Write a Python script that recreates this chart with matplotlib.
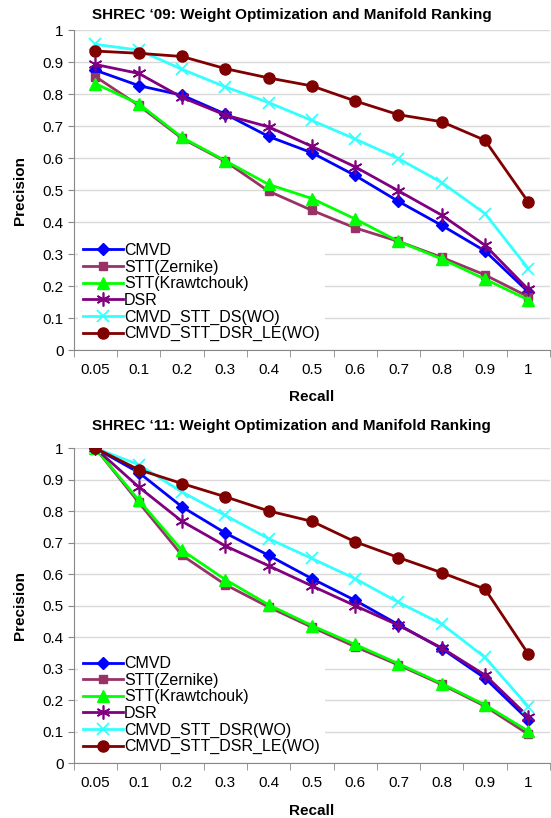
import matplotlib.pyplot as plt
import numpy as np

plt.rcParams['font.family'] = ['Liberation Sans', 'DejaVu Sans']

recall = ["0.05", "0.1", "0.2", "0.3", "0.4", "0.5", "0.6", "0.7", "0.8", "0.9", "1"]

# SHREC '09
cmvd_09 = [0.875, 0.827, 0.797, 0.738, 0.668, 0.617, 0.546, 0.465, 0.390, 0.310, 0.182]
zern_09 = [0.855, 0.765, 0.662, 0.590, 0.497, 0.437, 0.382, 0.340, 0.290, 0.235, 0.167]
kraw_09 = [0.833, 0.770, 0.665, 0.592, 0.518, 0.474, 0.410, 0.340, 0.285, 0.222, 0.157]
dsr_09 = [0.893, 0.865, 0.790, 0.735, 0.698, 0.637, 0.573, 0.498, 0.422, 0.328, 0.190]
wo_09 = [0.956, 0.938, 0.878, 0.823, 0.774, 0.718, 0.660, 0.599, 0.524, 0.427, 0.255]
le_09 = [0.935, 0.928, 0.918, 0.880, 0.851, 0.826, 0.779, 0.736, 0.714, 0.656, 0.463]

# SHREC '11
cmvd_11 = [1.0, 0.923, 0.814, 0.731, 0.660, 0.586, 0.517, 0.440, 0.364, 0.270, 0.138]
zern_11 = [1.0, 0.828, 0.660, 0.567, 0.496, 0.432, 0.370, 0.312, 0.250, 0.181, 0.092]
kraw_11 = [1.0, 0.835, 0.676, 0.583, 0.503, 0.437, 0.377, 0.316, 0.253, 0.185, 0.102]
dsr_11 = [1.0, 0.877, 0.768, 0.690, 0.627, 0.563, 0.500, 0.438, 0.366, 0.280, 0.148]
wo_11 = [1.0, 0.948, 0.861, 0.787, 0.713, 0.650, 0.586, 0.511, 0.442, 0.336, 0.180]
le_11 = [1.0, 0.932, 0.888, 0.846, 0.801, 0.768, 0.703, 0.653, 0.605, 0.553, 0.347]

styles = [
    dict(color="#0000FF", marker="D", ms=6),
    dict(color="#993366", marker="s", ms=6),
    dict(color="#00FF00", marker="^", ms=8),
    dict(color="#800080", marker=(6, 2, 0), ms=10, mew=1.2),
    dict(color="#33FFFF", marker="x", ms=9, mew=1.3),
    dict(color="#800000", marker="o", ms=8),
]


def draw(ax, series, names, title, title_pad):
    x = np.arange(len(recall))
    for vals, name, st in zip(series, names, styles):
        ax.plot(x, vals, lw=2, label=name, **st)
    ax.set_xlim(-0.5, len(recall) - 0.5)
    ax.set_ylim(0, 1)
    ax.set_yticks(np.arange(0, 1.01, 0.1))
    ax.set_yticklabels(["0", "0.1", "0.2", "0.3", "0.4", "0.5", "0.6", "0.7", "0.8", "0.9", "1"])
    ax.set_xticks(x)
    ax.set_xticklabels(recall)
    ax.set_xticks(np.arange(-0.5, len(recall), 1), minor=True)
    ax.tick_params(axis="x", which="major", length=0, labelsize=11, pad=9)
    ax.tick_params(axis="x", which="minor", length=5, color="#888888")
    ax.tick_params(axis="y", length=4, color="#888888", labelsize=11)
    ax.grid(axis="y", color="#D9D9D9", lw=1)
    ax.set_axisbelow(True)
    for s in ["top", "right"]:
        ax.spines[s].set_visible(False)
    for s in ["left", "bottom"]:
        ax.spines[s].set_color("#888888")
    ax.set_title(title, fontsize=11, fontweight="bold", pad=title_pad, x=0.458)
    ax.set_xlabel("Recall", fontsize=11, fontweight="bold", labelpad=10)
    ax.set_ylabel("Precision", fontsize=11, fontweight="bold", labelpad=11)
    leg = ax.legend(loc="lower left", bbox_to_anchor=(0.0, 0.0), fontsize=11.5,
                    frameon=True, framealpha=1, edgecolor="none", facecolor="white",
                    handlelength=2.5, handletextpad=0.1, labelspacing=0.1,
                    borderpad=0.3, borderaxespad=0.25)
    leg.get_frame().set_linewidth(0)


fig = plt.figure(figsize=(5.51, 8.18), dpi=100)
ax1 = fig.add_axes([0.134, 0.572, 0.864, 0.391])
ax2 = fig.add_axes([0.134, 0.067, 0.864, 0.385])

draw(ax1, [cmvd_09, zern_09, kraw_09, dsr_09, wo_09, le_09],
     ["CMVD", "STT(Zernike)", "STT(Krawtchouk)", "DSR", "CMVD_STT_DS(WO)", "CMVD_STT_DSR_LE(WO)"],
     "SHREC \u201809: Weight Optimization and Manifold Ranking", 8)
draw(ax2, [cmvd_11, zern_11, kraw_11, dsr_11, wo_11, le_11],
     ["CMVD", "STT(Zernike)", "STT(Krawtchouk)", "DSR", "CMVD_STT_DSR(WO)", "CMVD_STT_DSR_LE(WO)"],
     "SHREC \u201811: Weight Optimization and Manifold Ranking", 13)

fig.savefig("out.png", dpi=100, facecolor="white")
